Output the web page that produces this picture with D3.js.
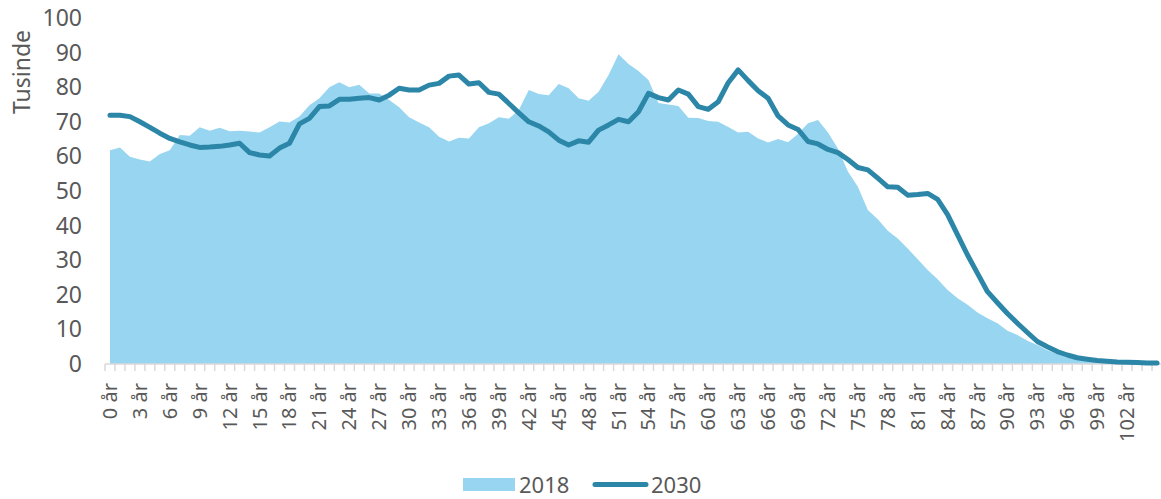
<!DOCTYPE html>
<html><head><meta charset="utf-8">
<script src="https://cdn.jsdelivr.net/npm/d3@7"></script>
<style>body{margin:0;background:#fff}svg{display:block}text{font-family:"Noto Sans",sans-serif;fill:#595959}</style>
</head><body><svg id="c" width="1161" height="499"></svg>
<script>
const ages = d3.range(0, 106);
const categories = ages.map(a => a + " år");
const values2018 = [61.8,62.6,59.9,59.1,58.5,60.7,61.8,66.2,66.0,68.4,67.4,68.3,67.3,67.4,67.2,66.9,68.4,70.1,69.8,71.5,
74.8,76.8,80.0,81.4,80.0,80.7,78.2,78.2,76.3,74.2,71.3,69.8,68.4,65.7,64.3,65.4,65.2,68.4,69.6,71.3,
70.9,73.4,79.2,78.0,77.7,80.9,79.7,76.8,76.1,78.7,83.5,89.5,86.7,84.7,82.1,75.4,75.0,74.6,71.2,71.1,
70.2,70.0,68.5,66.9,67.1,65.2,64.0,65.0,64.1,66.5,69.6,70.5,66.9,62.3,55.6,51.2,44.5,41.8,38.5,36.3,
33.4,30.3,27.2,24.5,21.4,19.0,17.1,14.9,13.2,11.8,9.6,8.4,6.7,5.5,4.0,2.9,1.9,1.4,1.0,0.7,
0.4,0.25,0.15,0.1,0.05,0.02];
const values2030 = [71.9,71.9,71.5,70.0,68.4,66.7,65.2,64.2,63.3,62.6,62.7,62.9,63.3,63.8,61.1,60.4,60.1,62.4,63.8,69.4,
71.0,74.4,74.6,76.5,76.5,76.8,77.0,76.3,77.7,79.7,79.2,79.2,80.6,81.1,83.2,83.5,80.9,81.3,78.5,78.0,
75.3,72.6,70.0,68.8,67.1,64.7,63.3,64.5,64.1,67.6,69.1,70.7,70.0,72.9,78.2,77.0,76.3,79.2,78.0,74.4,
73.6,75.8,81.3,85.0,81.9,79.0,76.8,71.7,69.1,67.8,64.3,63.6,62.0,61.1,59.1,56.8,56.1,53.7,51.2,51.1,
48.8,49.0,49.3,47.6,43.2,37.3,31.5,26.2,20.9,17.7,14.6,11.8,9.1,6.5,5.0,3.6,2.6,1.8,1.4,1.0,
0.8,0.6,0.5,0.4,0.3,0.3];
const yTicks = [0,10,20,30,40,50,60,70,80,90,100];
const seriesNames = ["2018","2030"];
const colors = {area:"#97d5f0", line:"#2b86a8", axis:"#d9d9d9"};

const svg = d3.select("#c");
const x = d3.scaleBand().domain(categories).range([105, 1162]).paddingInner(0).paddingOuter(0);
const cx = c => x(c) + x.bandwidth()/2;
const y = d3.scaleLinear().domain([0,100]).range([364,18]);

// area 2018
const area = d3.area().x((d,i)=>cx(categories[i])).y0(y(0)).y1(d=>y(d));
svg.append("path").datum(values2018).attr("d", area).attr("fill", colors.area);

// x axis
const gx = svg.append("g").attr("transform","translate(0,364)");
gx.append("line").attr("x1",105).attr("x2",1162).attr("stroke",colors.axis).attr("stroke-width",1.5);
gx.selectAll("line.tk").data(categories.concat([null])).enter().append("line")
  .attr("x1",(d,i)=>105 + i*x.step()).attr("x2",(d,i)=>105 + i*x.step())
  .attr("y1",0).attr("y2",7).attr("stroke",colors.axis).attr("stroke-width",1.5);
gx.selectAll("text").data(categories.filter((d,i)=>i%3===0 && i<=102)).enter().append("text")
  .attr("transform", d=>`translate(${cx(d)+7},19) rotate(-90)`)
  .attr("text-anchor","end").attr("font-size",20).text(d=>d);

// line 2030
const line = d3.line().x((d,i)=>cx(categories[i])).y(d=>y(d));
svg.append("path").datum(values2030).attr("d", line).attr("fill","none")
  .attr("stroke",colors.line).attr("stroke-width",5).attr("stroke-linejoin","round").attr("stroke-linecap","round");

// y axis labels
svg.append("g").selectAll("text").data(yTicks).enter().append("text")
  .attr("x",82).attr("y",d=>y(d)).attr("dy","0.35em").attr("text-anchor","end")
  .attr("font-size",23).text(d=>d);
svg.append("text").attr("transform","translate(30,72) rotate(-90)").attr("text-anchor","middle")
  .attr("font-size",23).text("Tusinde");

// legend
const lg = svg.append("g");
lg.append("rect").attr("x",463).attr("y",478).attr("width",52).attr("height",13).attr("fill",colors.area);
lg.append("text").attr("x",519).attr("y",493).attr("font-size",22).text(seriesNames[0]);
lg.append("line").attr("x1",595).attr("x2",646).attr("y1",484.5).attr("y2",484.5)
  .attr("stroke",colors.line).attr("stroke-width",5).attr("stroke-linecap","round");
lg.append("text").attr("x",651).attr("y",493).attr("font-size",22).text(seriesNames[1]);
</script></body></html>
